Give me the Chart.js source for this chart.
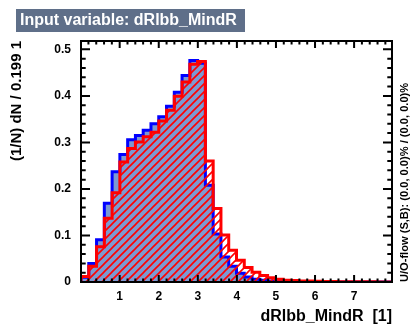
<!DOCTYPE html>
<html>
<head>
<meta charset="utf-8">
<script src="https://cdn.jsdelivr.net/npm/chart.js@4/dist/chart.umd.min.js"></script>
<style>
  html, body { margin: 0; padding: 0; background: #fff; }
  #wrap { width: 411px; height: 327px; }
</style>
</head>
<body>
<div id="wrap"><canvas id="c" width="411" height="327"></canvas></div>
<script>
// Normalised distributions of dRlbb_MindR, 40 bins
const varName = 'dRlbb_MindR';
const xMin = 0.01;
const binWidth = 0.199;

const signal = [
  0.010, 0.040, 0.091, 0.169, 0.237, 0.274, 0.306, 0.315, 0.326, 0.340,
  0.355, 0.378, 0.408, 0.444, 0.476, 0.470, 0.208, 0.103, 0.054, 0.034,
  0.019, 0.011, 0.006, 0.004, 0.002, 0.0015, 0.001, 0.0008, 0.0005, 0.0003,
  0.0002, 0.0002, 0.0001, 0.0001, 0.0001, 0, 0, 0, 0, 0
];
const background = [
  0.012, 0.034, 0.076, 0.137, 0.192, 0.258, 0.287, 0.301, 0.312, 0.322,
  0.346, 0.369, 0.399, 0.430, 0.468, 0.474, 0.260, 0.158, 0.101, 0.068,
  0.047, 0.031, 0.021, 0.014, 0.009, 0.006, 0.004, 0.003, 0.002, 0.002,
  0.0015, 0.001, 0.001, 0.0008, 0.0006, 0.0005, 0.0004, 0.0003, 0.0002, 0.0002
];
const xTicks = [1, 2, 3, 4, 5, 6, 7];
const yTicks = [0, 0.1, 0.2, 0.3, 0.4, 0.5];
const yMax = 0.518;

const xMax = xMin + signal.length * binWidth;
const FONT = '"Liberation Sans", Arial, Helvetica, sans-serif';

// step outline points: one point per bin low edge, closed at both ends
function stepPoints(values) {
  const pts = [{ x: xMin, y: 0 }];
  values.forEach((v, i) => pts.push({ x: xMin + i * binWidth, y: v }));
  pts.push({ x: xMax, y: 0 });
  return pts;
}

const canvas = document.getElementById('c');
const ctx0 = canvas.getContext('2d');

function hatchPattern(color, size, lw) {
  const t = document.createElement('canvas');
  t.width = size; t.height = size;
  const g = t.getContext('2d');
  g.strokeStyle = color;
  g.lineWidth = lw;
  g.beginPath();
  g.moveTo(-1, size + 1); g.lineTo(size + 1, -1);
  g.moveTo(-1, 1); g.lineTo(1, -1);
  g.moveTo(size - 1, size + 1); g.lineTo(size + 1, size - 1);
  g.stroke();
  return ctx0.createPattern(t, 'repeat');
}

const decor = {
  id: 'decor',
  beforeDraw(chart) {
    const ctx = chart.ctx;
    ctx.save();
    ctx.fillStyle = '#5f6f89';
    ctx.fillRect(16, 9, 229, 23);
    ctx.fillStyle = '#ffffff';
    ctx.font = 'bold 16px ' + FONT;
    ctx.textBaseline = 'alphabetic';
    ctx.textAlign = 'left';
    ctx.fillText('Input variable: ' + varName, 20, 25);
    ctx.restore();
  },
  afterDatasetsDraw(chart) {
    const ctx = chart.ctx;
    const a = chart.chartArea;
    const xs = chart.scales.x, ys = chart.scales.y;
    ctx.save();
    ctx.strokeStyle = '#000';
    ctx.lineWidth = 2;
    ctx.strokeRect(a.left, a.top, a.right - a.left, a.bottom - a.top);
    ctx.beginPath();
    // x ticks every 0.2, major at integers, drawn inside on bottom and top
    for (let k = 1; k < 45; k++) {
      const v = k * 0.2;
      if (v <= xMin || v >= xMax) continue;
      const px = xs.getPixelForValue(v);
      const len = (k % 5 === 0) ? 7 : 3.5;
      ctx.moveTo(px, a.bottom); ctx.lineTo(px, a.bottom - len);
      ctx.moveTo(px, a.top); ctx.lineTo(px, a.top + len);
    }
    // y ticks every 0.02, major at 0.1
    for (let k = 1; k * 0.02 < yMax; k++) {
      const py = ys.getPixelForValue(k * 0.02);
      const len = (k % 5 === 0) ? 9 : 4.7;
      ctx.moveTo(a.left, py); ctx.lineTo(a.left + len, py);
      ctx.moveTo(a.right, py); ctx.lineTo(a.right - len, py);
    }
    ctx.lineWidth = 2;
    ctx.stroke();
    // overflow note along the right edge
    ctx.translate(405, a.bottom);
    ctx.rotate(-Math.PI / 2);
    ctx.fillStyle = '#000';
    ctx.font = 'bold 11.1px ' + FONT;
    ctx.textAlign = 'left';
    ctx.textBaseline = 'middle';
    ctx.fillText('U/O-flow (S,B): (0.0, 0.0)% / (0.0, 0.0)%', 0, 0);
    ctx.restore();
  }
};

new Chart(canvas, {
  type: 'line',
  data: {
    datasets: [
      {
        label: 'Background',
        data: stepPoints(background),
        stepped: 'before',
        borderColor: '#ff0000',
        borderWidth: 3,
        backgroundColor: hatchPattern('#ff0000', 8, 1.6),
        fill: 'origin',
        pointRadius: 0,
        order: 0
      },
      {
        label: 'Signal',
        data: stepPoints(signal),
        stepped: 'before',
        borderColor: '#0000ff',
        borderWidth: 3,
        backgroundColor: '#7d99d1',
        fill: 'origin',
        pointRadius: 0,
        order: 1
      }
    ]
  },
  options: {
    responsive: false,
    animation: false,
    devicePixelRatio: 1,
    layout: { padding: { left: 0, right: 19, top: 41, bottom: 0 } },
    plugins: { legend: { display: false }, tooltip: { enabled: false }, title: { display: false } },
    elements: { line: { tension: 0, borderJoinStyle: 'miter' } },
    scales: {
      x: {
        type: 'linear',
        min: xMin,
        max: xMax,
        afterBuildTicks: s => { s.ticks = xTicks.map(v => ({ value: v })); },
        afterFit: s => { s.height = 45; },
        grid: { display: false, drawTicks: false },
        border: { display: false },
        ticks: { color: '#000', font: { family: FONT, size: 12, weight: 'bold' }, padding: 7, maxRotation: 0 },
        title: {
          display: true, text: varName + '  [1]', align: 'end', color: '#000',
          font: { family: FONT, size: 16, weight: 'bold' }, padding: { top: 0, bottom: 1 }
        }
      },
      y: {
        type: 'linear',
        min: 0,
        max: yMax,
        afterBuildTicks: s => { s.ticks = yTicks.map(v => ({ value: v })); },
        afterFit: s => { s.width = 81; },
        grid: { display: false, drawTicks: false },
        border: { display: false },
        ticks: { color: '#000', font: { family: FONT, size: 12, weight: 'bold' }, padding: 10 },
        title: {
          display: true, text: '(1/N) dN / 0.199 1', align: 'end', color: '#000',
          font: { family: FONT, size: 15, weight: 'bold' }, padding: { top: 8, bottom: 0 }
        }
      }
    }
  },
  plugins: [decor]
});
</script>
</body>
</html>
